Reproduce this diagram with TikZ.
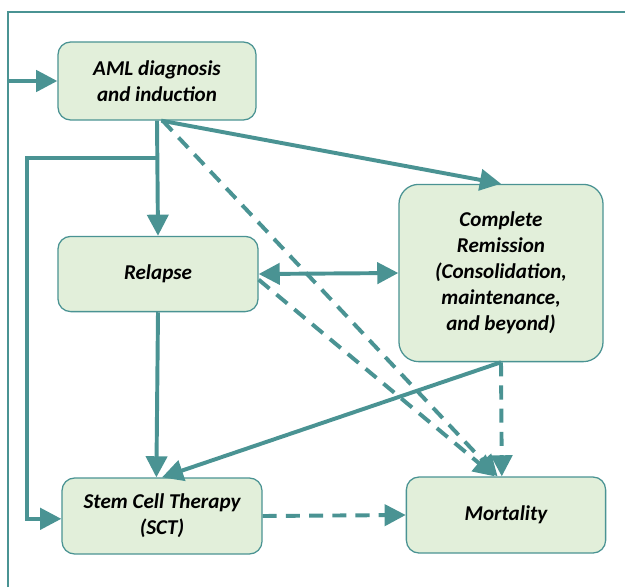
\documentclass[tikz,border=0pt]{standalone}
\usepackage{fontspec}
\setmainfont{Carlito}
\usepackage{tikz}
\usetikzlibrary{arrows.meta}
\definecolor{tealline}{RGB}{74,147,147}
\definecolor{boxfill}{RGB}{226,239,218}

\begin{document}
\begin{tikzpicture}[x=0.025cm, y=-0.025cm,
    box/.style={draw=tealline, line width=0.9pt, fill=boxfill, rounded corners=9pt,
        align=center, font=\fontsize{15}{18.5}\selectfont\bfseries\itshape},
    arr/.style={draw=tealline, line width=2.8pt, -{Triangle[length=15pt, width=15pt]}},
    dasharr/.style={arr, dash pattern=on 10pt off 6.5pt}]
\useasboundingbox (0,0) rectangle (625,587);
%\node {\includegraphics{flow.png}};
\draw[tealline, line width=1pt] (8,587)--(8,12)--(625,12);

\node[box, minimum width=4.95cm, minimum height=1.95cm] (AML) at (157,81) {AML diagnosis\\and induction};
\node[box, minimum width=5cm, minimum height=1.88cm] (Rel) at (158,274) {Relapse};
\node[box, minimum width=5.1cm, minimum height=4.43cm, rounded corners=14pt] (CR) at (501,273) {Complete\\Remission\\(Consolidation,\\maintenance,\\and beyond)};
\node[box, minimum width=5cm, minimum height=1.9cm] (SCT) at (162,516) {Stem Cell Therapy\\(SCT)};
\node[box, minimum width=4.98cm, minimum height=1.9cm] (Mort) at (506,515) {Mortality};

\coordinate (in) at (8,81);
\coordinate (split) at (157,158);

\draw[arr] (in) -- (AML.west);
\draw[arr] (AML.south) -- (Rel.north);
\draw[arr] (split) -- ++(-130,0) |- ([yshift=-2]SCT.west);
\draw[arr] ([xshift=3]AML.south) -- (CR.north);
\draw[dasharr] ([xshift=4]AML.south) -- ([xshift=-6]Mort.north);
\draw[dasharr] ([yshift=-4]Rel.east) -- ([xshift=-8]Mort.north);
\draw[arr, {Triangle[length=15pt, width=15pt]}-{Triangle[length=15pt, width=15pt]}] (Rel.east) -- (CR.west);
\draw[arr] (CR.south) -- (SCT.north);
\draw[arr] (Rel.south) -- ([xshift=-4]SCT.north);
\draw[dasharr] (CR.south) -- ([xshift=-3]Mort.north);
\draw[dasharr] (SCT.east) -- (Mort.west);
\end{tikzpicture}
\end{document}
